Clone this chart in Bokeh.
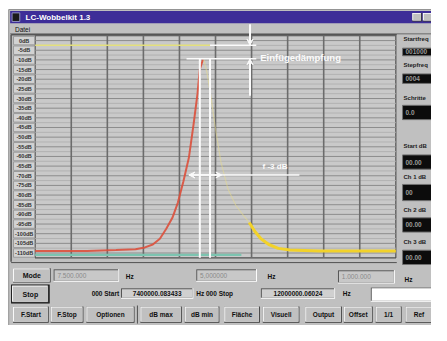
from bokeh.plotting import figure
from bokeh.models import Range1d, Arrow, VeeHead
from bokeh.core.properties import value
from bokeh.embed import file_html
from bokeh.resources import INLINE

# ---------------- data ----------------
F_START_MHZ = 7.4
F_STOP_MHZ = 12.0
FREQ_GRID_MHZ = [7.86, 8.32, 8.78, 9.24, 9.70, 10.16, 10.62, 11.08, 11.54]
DB_TICKS = [0, -5, -10, -15, -20, -25, -30, -35, -40, -45, -50, -55,
            -60, -65, -70, -75, -80, -85, -90, -95, -100, -105, -110]
DB_LABELS = ["0dB", "-5dB", "-10dB", "-15dB", "-20dB", "-25dB", "-30dB", "-35dB",
             "-40dB", "-45dB", "-50dB", "-55dB", "-60dB", "-65dB", "-70dB", "-75dB",
             "-80dB", "-85dB", "-90dB", "-95dB", "-100dB", "-105dB", "-110dB"]
DB_TOP = 2.5
DB_BOTTOM = -112.5

# red trace (rising flank)
RED_F = [7.40, 7.70, 8.06, 8.43, 8.68, 8.80, 8.90, 8.99, 9.07, 9.15,
         9.22, 9.29, 9.36, 9.42, 9.47, 9.50, 9.54]
RED_DB = [-109.0, -109.0, -109.0, -108.5, -108.1, -107.1, -105.6, -102.6, -97.6, -91.8,
          -83.9, -73.0, -60.7, -43.4, -27.6, -14.8, -9.8]
# yellow trace (falling flank), faint upper part and solid lower part
YEL_UP_F = [9.55, 9.59, 9.64, 9.70, 9.77, 9.86, 9.96, 10.06, 10.13]
YEL_UP_DB = [-9.8, -16.3, -28.6, -45.9, -63.1, -77.0, -85.4, -90.8, -94.2]
YEL_F = [10.13, 10.20, 10.28, 10.38, 10.50, 10.65, 11.02, 11.51, 12.0]
YEL_DB = [-94.2, -98.7, -102.6, -105.6, -107.6, -108.5, -109.0, -109.0, -109.0]
# teal trace
TEAL_F = [7.40, 10.03]
TEAL_DB = [-111.0, -111.0]
# markers
REF_DB = -2.4          # reference level (yellow line)
PEAK_DB = -9.4         # peak level
REF_LINE_F = [7.40, 9.63]
LOSS_F = 10.14         # insertion-loss dimension
LOSS_SPAN_F = [9.63, 10.22]
PEAK_SPAN_F = [9.33, 10.22]
BW_F = [9.50, 9.63]    # -3 dB marker frequencies
BW_DB = -69.6
BW_ARROW_F = [9.36, 9.78]
BW_LINE_F = [9.36, 10.77]

PANEL_LABELS = ["Startfreq", "Stepfreq", "Schritte", "Start dB", "Ch 1 dB", "Ch 2 dB", "Ch 3 dB"]
PANEL_VALUES = ["001000", "0004", "0.0", "00.00", "00", "00.00", "00.00"]
BUTTONS = ["F.Start", "F.Stop", "Optionen", "dB max", "dB min", "Fläche", "Visuell",
           "Output", "Offset", "1/1", "Ref"]

# ---------------- layout (reference pixel space) ----------------
CX0, CX1, CY0, CY1 = 0, 447, 0, 341
PL, PR, PT, PB = 36, 410, 37, 270
FONT = value("Liberation Sans")

fx = (F_STOP_MHZ - F_START_MHZ) / (PR - PL)
fy = (DB_TOP - DB_BOTTOM) / (PB - PT)

p = figure(width=431, height=325, output_backend="svg", toolbar_location=None,
           x_range=Range1d(CX0, CX1), y_range=Range1d(CY1, CY0),
           x_axis_location=None, y_axis_location=None, min_border=0,
           outline_line_color=None, background_fill_color="white",
           border_fill_color="white")
p.xgrid.visible = False
p.ygrid.visible = False
p.extra_x_ranges = {"freq": Range1d(F_START_MHZ - (PL - CX0) * fx, F_STOP_MHZ + (CX1 - PR) * fx)}
p.extra_y_ranges = {"db": Range1d(DB_BOTTOM - (CY1 - PB) * fy, DB_TOP + (PT - CY0) * fy)}
D = dict(x_range_name="freq", y_range_name="db")


def txt(xs, ys, texts, size="7px", color="#101010", align="center", style="bold", **kw):
    p.text(x=xs, y=ys, text=texts, text_font=FONT, text_font_size=size,
           text_font_style=style, text_color=color, text_align=align,
           text_baseline="middle", **kw)


def bevel(boxes, raised=True, face="#c0c0c0"):
    L = [b[0] for b in boxes]; R = [b[1] for b in boxes]
    T = [b[2] for b in boxes]; B = [b[3] for b in boxes]
    light, dark = ("#ffffff", "#3a3a3a") if raised else ("#505050", "#ffffff")
    p.quad(left=L, right=R, top=T, bottom=B, fill_color=dark, line_color=None)
    p.quad(left=L, right=[r - 1 for r in R], top=T, bottom=[b - 1 for b in B],
           fill_color=light, line_color=None)
    p.quad(left=[l + 1 for l in L], right=[r - 1 for r in R], top=[t + 1 for t in T],
           bottom=[b - 1 for b in B], fill_color=face, line_color=None)


# window frame
p.quad(left=[8.5], right=[448], top=[9.5], bottom=[342], fill_color="#c0c0c0",
       line_color="#909090", line_width=1)
# title bar
p.quad(left=[10], right=[448], top=[11], bottom=[24], fill_color="#3d2d98", line_color=None)
p.quad(left=[12], right=[20], top=[13], bottom=[22], fill_color="#1a1a1a", line_color="#9090c0")
txt([26], [17.8], ["LC-Wobbelkit 1.3"], size="8px", color="white", align="left")
bevel([(427, 437, 13, 22), (438, 448, 13, 22)])
# menu bar
txt([15], [30], ["Datei"], size="6.5px", align="left", style="normal")
p.segment(x0=[10], x1=[448], y0=[35], y1=[35], line_color="#6a6a6a", line_width=1)

# left sunken border
p.segment(x0=[11, 11], x1=[11, 411], y0=[36, 36], y1=[274, 36], line_color="#555555", line_width=1.5)

# plot area
p.quad(left=[F_START_MHZ], right=[F_STOP_MHZ], top=[DB_TOP], bottom=[DB_BOTTOM],
       fill_color="#c9c9c9", line_color="#505050", line_width=1.2, **D)
minor = [(DB_TICKS[i] + DB_TICKS[i + 1]) / 2 for i in range(len(DB_TICKS) - 1)]
p.segment(x0=[F_START_MHZ] * len(minor), x1=[F_STOP_MHZ] * len(minor), y0=minor, y1=minor,
          line_color="#b2b2b2", line_width=1, **D)
p.segment(x0=[F_START_MHZ] * len(DB_TICKS), x1=[F_STOP_MHZ] * len(DB_TICKS), y0=DB_TICKS,
          y1=DB_TICKS, line_color="#8c8c8c", line_width=1, **D)
p.segment(x0=FREQ_GRID_MHZ, x1=FREQ_GRID_MHZ, y0=[DB_TOP] * len(FREQ_GRID_MHZ),
          y1=[DB_BOTTOM] * len(FREQ_GRID_MHZ), line_color="#6c6c6c", line_width=1.6, **D)

# y labels in boxes
p.rect(x=[24.5] * len(DB_TICKS), y=DB_TICKS, width=[22] * len(DB_TICKS), height=[8.5] * len(DB_TICKS),
       height_units="screen", fill_color="#d2d2d2", line_color="#9a9a9a", y_range_name="db")
p.text(x=[24.5] * len(DB_TICKS), y=DB_TICKS, text=DB_LABELS, text_font=FONT, text_font_size="5.5px",
       text_font_style="bold", text_color="#303030", text_align="center", text_baseline="middle",
       y_range_name="db")

# traces
p.line(TEAL_F, TEAL_DB, line_color="#7cc4b0", line_width=2.2, **D)
p.line(REF_LINE_F, [REF_DB, REF_DB], line_color="#e4e07c", line_width=1.6, **D)
p.line(RED_F, RED_DB, line_color="#dc503c", line_width=2.0, line_alpha=0.9, **D)
p.line(YEL_UP_F, YEL_UP_DB, line_color="#e8dc8a", line_width=1.2, line_alpha=0.5, **D)
p.line(YEL_F, YEL_DB, line_color="#f2d22a", line_width=3, **D)

# white markers
W = "#fbfbfb"
p.segment(x0=BW_F, x1=BW_F, y0=[PEAK_DB] * 2, y1=[DB_BOTTOM] * 2, line_color=W, line_width=2, **D)
p.line(LOSS_SPAN_F, [REF_DB, REF_DB], line_color=W, line_width=1.6, **D)
p.line(PEAK_SPAN_F, [PEAK_DB, PEAK_DB], line_color=W, line_width=1.6, **D)
p.line(BW_LINE_F, [BW_DB, BW_DB], line_color=W, line_width=1.6, **D)
p.add_layout(Arrow(x_start=LOSS_F, y_start=8.5, x_end=LOSS_F, y_end=REF_DB, line_color=W, line_width=2,
                   end=VeeHead(size=6, line_color=W, fill_color=W), **D))
p.add_layout(Arrow(x_start=LOSS_F, y_start=-28.6, x_end=LOSS_F, y_end=PEAK_DB, line_color=W, line_width=2,
                   end=VeeHead(size=6, line_color=W, fill_color=W), **D))
p.add_layout(Arrow(x_start=BW_ARROW_F[0], y_start=BW_DB, x_end=BW_ARROW_F[1], y_end=BW_DB, line_color=W,
                   line_width=1.6, start=VeeHead(size=6, line_color=W, fill_color=W),
                   end=VeeHead(size=6, line_color=W, fill_color=W), **D))
p.text(x=[10.27], y=[PEAK_DB + 0.8], text=["Einfügedämpfung"], text_font=FONT, text_font_size="9.5px",
       text_font_style="bold", text_color=W, text_baseline="middle", **D)
p.text(x=[10.30], y=[BW_DB + 4.5], text=["f -3 dB"], text_font=FONT, text_font_size="8px",
       text_font_style="bold", text_color=W, text_baseline="middle", **D)

# right panel
label_y = [40, 68, 102, 153, 185, 220, 253]
box_tb = [(50, 58), (77, 87), (110, 125), (162, 177), (193, 210), (228, 243), (262, 277)]
txt([418] * 7, label_y, PANEL_LABELS, size="6px", align="left", color="#202020")
p.quad(left=[417] * 7, right=[448] * 7, top=[b[0] for b in box_tb], bottom=[b[1] for b in box_tb],
       fill_color="#0c0c0c", line_color="#707070")
txt([420] * 7, [(b[0] + b[1]) / 2 for b in box_tb], PANEL_VALUES, size="6.5px", align="left",
    color="#9a9a9a")

# row 1
p.segment(x0=[11], x1=[411], y0=[275], y1=[275], line_color="#505050", line_width=1)
bevel([(13, 52, 281, 296)])
txt([32.5], [288.5], ["Mode"])
bevel([(55, 123, 282, 295), (203, 266, 282, 295), (350, 409, 283, 297)], raised=False, face="#c8c8c8")
txt([59, 207, 354], [288.5, 288.5, 290], ["7.500.000", "5,000000", "1.000.000"], color="#8a8a8a",
    align="left", style="normal", size="6.5px")
txt([130, 277, 419], [290, 290, 293], ["Hz", "Hz", "Hz"], align="left", size="6.5px")

# row 2
p.quad(left=[11], right=[51], top=[298], bottom=[318], fill_color="#101010", line_color=None)
bevel([(12, 50, 299, 317)])
txt([31], [308], ["Stop"])
txt([123], [307.5], ["000 Start"], align="right", size="6.5px")
bevel([(125, 200, 302, 313), (270, 347, 302, 313)], raised=False, face="#d0d0d0")
txt([162.5, 308.5], [307.5, 307.5], ["7400000.083433", "12000000.06024"], size="6.5px")
txt([203], [307.5], ["Hz  000 Stop"], align="left", size="6.5px")
txt([355], [307.5], ["Hz"], align="left", size="6.5px")
bevel([(384, 448, 301, 316)], raised=False, face="#ffffff")

# row 3 buttons
bx = [(13, 50), (52, 86), (89, 139), (145, 188), (191, 227), (232, 269), (272, 310),
      (316, 354), (356, 386), (389, 416), (420, 448)]
bevel([(a, b, 321, 338) for a, b in bx])
txt([(a + b) / 2 for a, b in bx], [329.5] * len(bx), BUTTONS, size="6.5px")
p.segment(x0=[142], x1=[142], y0=[320], y1=[339], line_color="#505050", line_width=1)

open("out.html", "w").write(file_html(p, INLINE))
